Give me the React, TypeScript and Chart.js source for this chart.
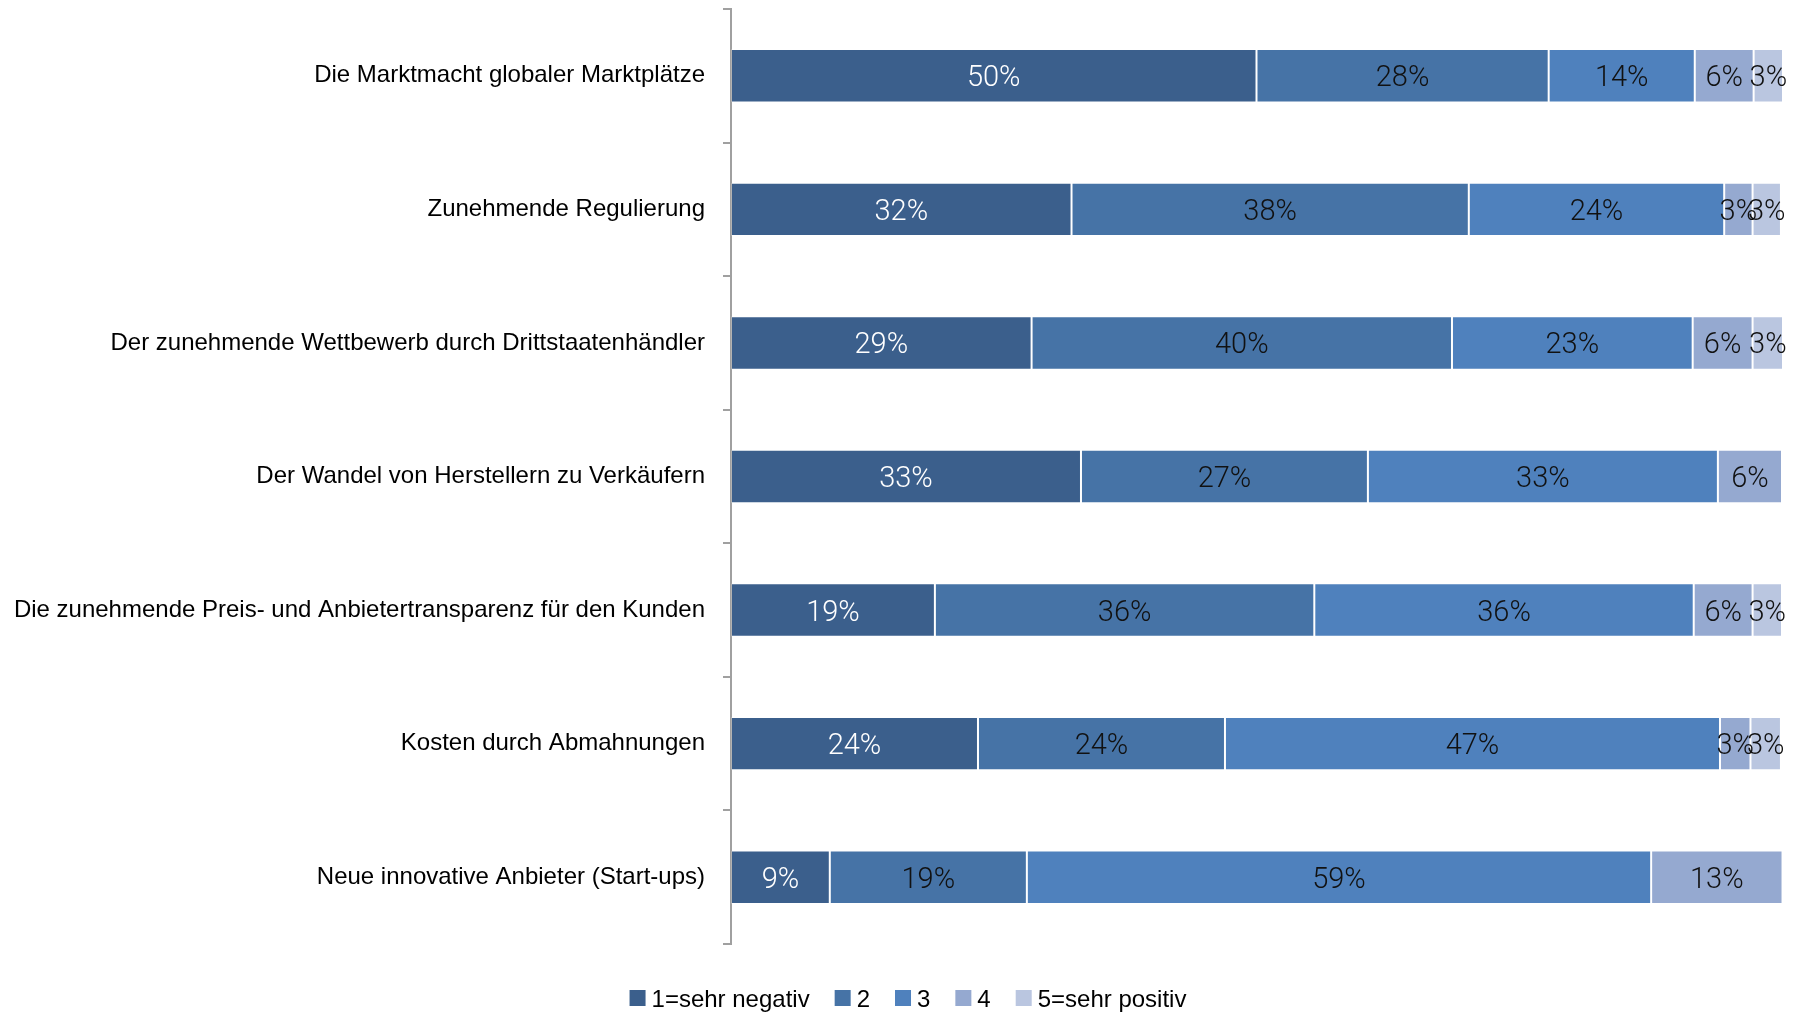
import React, { useEffect, useRef } from "react";
import { Chart, registerables } from "chart.js";

Chart.register(...registerables);

const categories = [
  "Die Marktmacht globaler Marktplätze",
  "Zunehmende Regulierung",
  "Der zunehmende Wettbewerb durch Drittstaatenhändler",
  "Der Wandel von Herstellern zu Verkäufern",
  "Die zunehmende Preis- und Anbietertransparenz für den Kunden",
  "Kosten durch Abmahnungen",
  "Neue innovative Anbieter (Start-ups)",
];

const seriesNames = ["1=sehr negativ", "2", "3", "4", "5=sehr positiv"];

const rating1 = [50.0, 32.4, 28.6, 33.3, 19.4, 23.5, 9.4];
const rating2 = [27.8, 37.8, 40.0, 27.3, 36.1, 23.5, 18.75];
const rating3 = [13.9, 24.3, 22.9, 33.3, 36.1, 47.1, 59.4];
const rating4 = [5.6, 2.7, 5.7, 6.1, 5.6, 2.9, 12.5];
const rating5 = [2.8, 2.7, 2.9, 0, 2.8, 2.9, 0];

const seriesColors = ["#3B5F8C", "#4673A6", "#4F81BD", "#95A9D0", "#BAC6E0"];
const labelColors = ["#FFFFFF", "#111111", "#111111", "#111111", "#111111"];

const W = 1803;
const H = 1014;

const valueLabelPlugin = {
  id: "valueLabels",
  afterDatasetsDraw(chart: any) {
    const ctx = chart.ctx;
    ctx.save();
    ctx.font = "300 29px Roboto";
    ctx.textAlign = "center";
    ctx.textBaseline = "alphabetic";
    chart.data.datasets.forEach((ds: any, di: number) => {
      const meta = chart.getDatasetMeta(di);
      meta.data.forEach((el: any, i: number) => {
        const v = ds.data[i];
        if (!v) return;
        const cx = (el.x + el.base) / 2;
        ctx.fillStyle = labelColors[di];
        ctx.fillText(Math.round(v) + "%", cx, el.y + 10.5);
      });
    });
    ctx.restore();
  },
};

const legendPlugin = {
  id: "customLegend",
  afterDraw(chart: any) {
    const ctx = chart.ctx;
    ctx.save();
    ctx.font = "24px 'Liberation Sans'";
    ctx.textBaseline = "alphabetic";
    const box = 16;
    const gap = 6;
    const spacing = 25;
    const items = chart.data.datasets.map((ds: any) => ({
      label: ds.label,
      color: ds.backgroundColor,
      w: ctx.measureText(ds.label).width,
    }));
    const total =
      items.reduce((s: number, it: any) => s + box + gap + it.w, 0) +
      spacing * (items.length - 1);
    let x = 908 - total / 2;
    const cy = 998;
    items.forEach((it: any) => {
      ctx.fillStyle = it.color;
      ctx.fillRect(x, cy - box / 2, box, box);
      ctx.fillStyle = "#000000";
      ctx.fillText(it.label, x + box + gap, cy + 8.5);
      x += box + gap + it.w + spacing;
    });
    ctx.restore();
  },
};

export default function App() {
  const ref = useRef<HTMLCanvasElement>(null);

  useEffect(() => {
    if (!ref.current) return;
    const values = [rating1, rating2, rating3, rating4, rating5];
    const chart = new Chart(ref.current, {
      type: "bar",
      data: {
        labels: categories,
        datasets: values.map((d, i) => ({
          label: seriesNames[i],
          data: d,
          backgroundColor: seriesColors[i],
          borderColor: "rgba(255,255,255,0.2)",
          borderWidth: 1,
          borderSkipped: false,
          categoryPercentage: 1,
          barPercentage: 0.4,
        })),
      },
      options: {
        indexAxis: "y",
        animation: false,
        responsive: false,
        maintainAspectRatio: false,
        layout: { padding: { top: 9, right: 21, bottom: 70, left: 0 } },
        plugins: {
          legend: { display: false },
          tooltip: { enabled: false },
        },
        scales: {
          x: {
            stacked: true,
            min: 0,
            max: 100,
            display: false,
          },
          y: {
            stacked: true,
            afterFit: (scale: any) => {
              scale.width = 731;
              scale.paddingTop = 0;
              scale.paddingBottom = 0;
            },
            border: { display: true, color: "#A0A0A0", width: 2 },
            grid: {
              display: true,
              offset: true,
              drawOnChartArea: false,
              drawTicks: true,
              tickLength: 8,
              color: "#A0A0A0",
              lineWidth: 2,
            },
            ticks: {
              color: "#000000",
              padding: 18,
              font: { family: "'Liberation Sans'", size: 24 },
            },
          },
        },
      },
      plugins: [valueLabelPlugin, legendPlugin],
    });
    return () => chart.destroy();
  }, []);

  return (
    <div style={{ position: "fixed", left: 0, top: 0, width: W, height: H, background: "#fff" }}>
      <canvas ref={ref} width={W} height={H} style={{ width: W, height: H, display: "block" }} />
    </div>
  );
}
